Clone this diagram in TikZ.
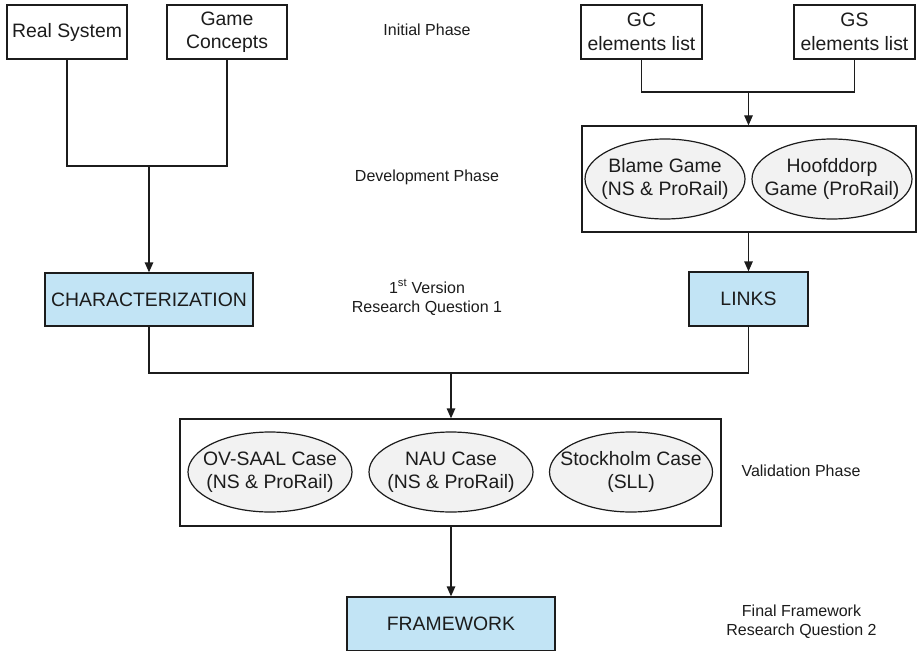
\documentclass[tikz,border=0pt]{standalone}
\usepackage{fontspec}
\setmainfont{Liberation Sans}
\usetikzlibrary{arrows.meta,shapes.geometric}
\definecolor{boxblue}{RGB}{194,228,245}
\definecolor{ovalgray}{RGB}{242,242,242}
\definecolor{ink}{RGB}{28,28,28}
\tikzset{
  every node/.style={text=ink},
  big/.style={font=\fontsize{19.4}{23.5}\selectfont},
  small/.style={font=\fontsize{16}{19}\selectfont, align=center},
  plainbox/.style={big, draw=ink, line width=1.3pt, fill=white, align=center, inner sep=0pt},
  bluebox/.style={plainbox, fill=boxblue},
  groupbox/.style={draw=ink, line width=1.3pt, fill=white, inner sep=0pt},
  % the oval is sized exactly; its text sits in a centred label
  oval/.style={ellipse, draw=ink, line width=1.2pt, fill=ovalgray,
    minimum width=162pt, minimum height=80pt, inner sep=0pt,
    label={[big, align=center]center:#1}},
  link/.style={draw=ink, line width=1.3pt},
  arrow/.style={link, -{Triangle[length=10pt,width=8.5pt]}},
}
\begin{document}
\begin{tikzpicture}[x=1pt,y=-1pt]
\useasboundingbox (0,0) rectangle (917,650);
\fill[white] (0,0) rectangle (917,650);

% initial inputs
\node[plainbox, minimum width=120pt, minimum height=54pt] (real) at (67,32) {Real System};
\node[plainbox, minimum width=120pt, minimum height=54pt] (gcon) at (227,32) {Game\\Concepts};
\node[plainbox, minimum width=121pt, minimum height=54pt] (gcl) at (641.5,32) {GC\\elements list};
\node[plainbox, minimum width=121pt, minimum height=54pt] (gsl) at (854.5,32) {GS\\elements list};

% development games
\node[groupbox, minimum width=334pt, minimum height=106pt] (dev) at (749,179) {};
\node[oval={Blame Game\\(NS \& ProRail)}, minimum width=160pt] (blame) at (665,179) {};
\node[oval={Hoofddorp\\Game (ProRail)}, minimum width=160pt] (hoof) at (832,179) {};

% first version outputs
\node[bluebox, minimum width=208pt, minimum height=53pt] (char) at (149,299.5) {CHARACTERIZATION};
\node[bluebox, minimum width=119pt, minimum height=54pt] (links) at (748.5,299) {LINKS};

% validation cases
\node[groupbox, minimum width=541pt, minimum height=107pt] (val) at (450.5,472.5) {};
\node[oval={OV-SAAL Case\\(NS \& ProRail)}, minimum width=164pt] (ov) at (270,472) {};
\node[oval={NAU Case\\(NS \& ProRail)}, minimum width=164pt] (nau) at (451,472) {};
\node[oval={Stockholm Case\\(SLL)}, minimum width=163pt] (sto) at (631,472) {};

% final result
\node[bluebox, minimum width=208pt, minimum height=54pt] (fw) at (451,624) {FRAMEWORK};

% phase labels
\node[small] (lInit) at (427,30) {Initial Phase};
\node[small] (lDev) at (427,177) {Development Phase};
\node[small] (lVer) at (427,297.5) {1\textsuperscript{st} Version\\Research Question 1};
\node[small] (lVal) at (801,471) {Validation Phase};
\node[small] (lFin) at (801.5,622) {Final Framework\\Research Question 2};

% connectors
\coordinate (j1) at (149,166);
\coordinate (j2) at (748.5,92);
\coordinate (j3) at (451,373);
\draw[link] (real.south) |- (j1) -| (gcon.south);
\draw[arrow] (j1) -- (char.north);
\draw[link] (gcl.south) |- (j2) -| (gsl.south);
\draw[arrow] (j2) -- (j2 |- dev.north);
\draw[arrow] (links.north |- dev.south) -- (links.north);
\draw[link] (char.south) |- (j3) -| (links.south);
\draw[arrow] (j3) -- (j3 |- val.north);
\draw[arrow] (fw.north |- val.south) -- (fw.north);
\end{tikzpicture}
\end{document}
